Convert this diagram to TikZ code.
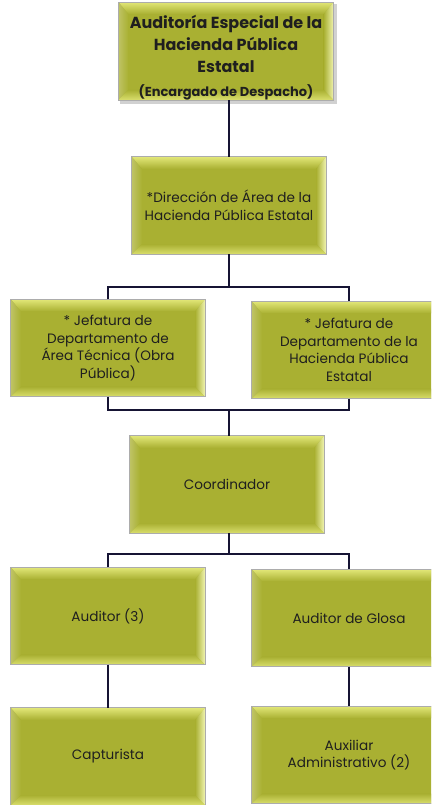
\documentclass[tikz,border=0pt]{standalone}
\usepackage{fontspec}
\setmainfont{Poppins}
\usetikzlibrary{backgrounds}
\definecolor{olive1}{RGB}{169, 176, 50}
\definecolor{olive2}{RGB}{226, 231, 120}
\definecolor{olive3}{RGB}{242, 245, 178}
\definecolor{navy1}{RGB}{22, 20, 52}

\begin{document}
\begin{tikzpicture}[x=1pt, y=-1pt,
  every node/.style={font=\fontsize{13.6}{17.6}\selectfont, text=black!88},
  orgbox/.style={rectangle, minimum width=194pt, minimum height=97pt, align=center, inner sep=0pt},
  link/.style={draw=navy1, line width=2.6pt}]
  \useasboundingbox (0,0) rectangle (431,805);
  \clip (0,0) rectangle (431,805);

  \node[orgbox, minimum width=215pt, minimum height=92pt,
        font=\bfseries\fontsize{16}{22}\selectfont] (top) at (226,51)
        {\rule{0pt}{26pt}Auditoría Especial de la\\Hacienda Pública\\Estatal\\[2pt]{\fontsize{13}{15}\selectfont (Encargado de Despacho)}};
  \node[orgbox] (dir) at (229,205.5) {*Dirección de Área de la\\Hacienda Pública Estatal};

  \node[orgbox] (jefA) at (108,348) {* Jefatura de\\Departamento de\\Área Técnica (Obra\\Pública)};
  \node[orgbox] (jefB) at (349,350) {* Jefatura de\\Departamento de la\\Hacienda Pública\\Estatal};

  \node[orgbox] (coord) at (227,484.5) {Coordinador};

  \node[orgbox] (aud) at (108,616) {Auditor (3)};
  \node[orgbox] (glosa) at (349,618) {Auditor de Glosa};
  \node[orgbox] (capt) at (108,756.5) {Capturista};
  \node[orgbox] (aux) at (349,755) {Auxiliar\\Administrativo (2)};

  \coordinate (bus1) at (229,287);
  \coordinate (bus2) at (229,410);
  \coordinate (bus3) at (229,554);

  % bevelled boxes behind the text
  \begin{pgfonlayer}{background}
    \clip (0,0) rectangle (431,805);
    \fill[black!18] ([shift={(2,2)}]top.north west) rectangle ([shift={(3,4)}]top.south east);
    \foreach \n in {top,dir,jefA,jefB,coord,aud,glosa,capt,aux}{
      \fill[olive1] (\n.north west) rectangle (\n.south east);
      \shade[top color=olive2, bottom color=olive1] (\n.north west) -- (\n.north east)
        -- ([shift={(-10,12)}]\n.north east) -- ([shift={(10,12)}]\n.north west) -- cycle;
      \shade[left color=olive1!75!white, right color=olive1] (\n.north west) -- ([shift={(10,12)}]\n.north west)
        -- ([shift={(10,-10)}]\n.south west) -- (\n.south west) -- cycle;
      \shade[left color=olive1, right color=olive3] (\n.north east) -- (\n.south east)
        -- ([shift={(-10,-10)}]\n.south east) -- ([shift={(-10,12)}]\n.north east) -- cycle;
      \shade[top color=olive1, bottom color=olive2!85!olive1] (\n.south west) -- ([shift={(10,-10)}]\n.south west)
        -- ([shift={(-10,-10)}]\n.south east) -- (\n.south east) -- cycle;
      \draw[gray!65, line width=0.8pt] (\n.north west) rectangle (\n.south east);
    }
  \end{pgfonlayer}

  \draw[link] (top.south -| bus1) -- (dir.north -| bus1);
  \draw[link] (dir.south -| bus1) -- (bus1);
  \draw[link] (jefA.north) |- (bus1) -| (jefB.north);
  \draw[link] (jefA.south) |- (bus2) -| (jefB.south);
  \draw[link] (bus2) -- (coord.north -| bus2);
  \draw[link] (coord.south -| bus3) -- (bus3);
  \draw[link] (aud.north) |- (bus3) -| (glosa.north);
  \foreach \from/\to in {aud/capt, glosa/aux}
    \draw[link] (\from.south) -- (\to.north);
\end{tikzpicture}
\end{document}
